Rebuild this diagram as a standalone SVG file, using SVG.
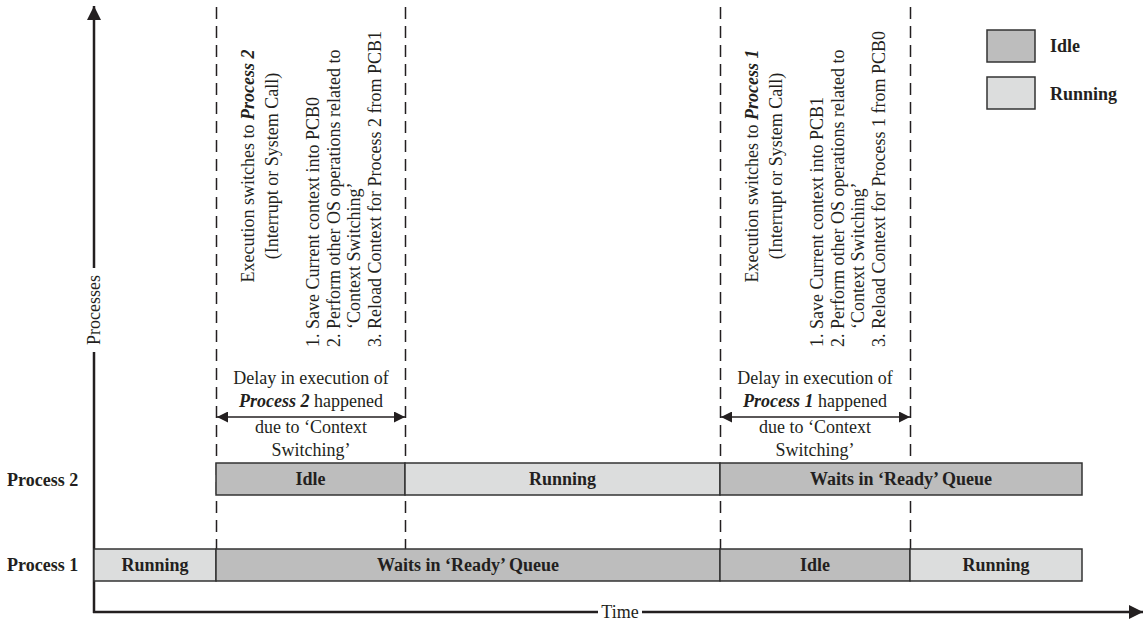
<svg xmlns="http://www.w3.org/2000/svg" width="1145" height="620" viewBox="0 0 1145 620">
<defs>
<style>
text{font-family:"Liberation Serif","Times New Roman",serif;fill:#231f20;font-size:18px}
.b{font-weight:bold}
.bi{font-weight:bold;font-style:italic}
.idle{fill:#bdbdbd;stroke:#333;stroke-width:1.5}
.run{fill:#dcdddd;stroke:#333;stroke-width:1.5}
.dash{stroke:#231f20;stroke-width:1.5;stroke-dasharray:12 7;fill:none}
.axis{stroke:#231f20;stroke-width:2.5;fill:none}
.dl{stroke:#231f20;stroke-width:1.5;fill:none}
</style>
<marker id="ah" viewBox="0 0 10 10" refX="10" refY="5" markerWidth="13" markerHeight="11" markerUnits="userSpaceOnUse" orient="auto-start-reverse">
<path d="M0,0 L10,5 L0,10 z" fill="#231f20"/>
</marker>
<marker id="axh" viewBox="0 0 10 10" refX="10" refY="5" markerWidth="16" markerHeight="14" markerUnits="userSpaceOnUse" orient="auto">
<path d="M0,0 L10,5 L0,10 z" fill="#231f20"/>
</marker>
</defs>
<rect width="1145" height="620" fill="#fff"/>

<g id="connectors">
<line class="dash" x1="216.5" y1="7" x2="216.5" y2="549"/>
<line class="dash" x1="405.5" y1="7" x2="405.5" y2="549"/>
<line class="dash" x1="720.5" y1="7" x2="720.5" y2="549"/>
<line class="dash" x1="910.5" y1="7" x2="910.5" y2="549"/>
<line class="dl" x1="217" y1="417" x2="405" y2="417" marker-start="url(#ah)" marker-end="url(#ah)"/>
<line class="dl" x1="721" y1="417" x2="910" y2="417" marker-start="url(#ah)" marker-end="url(#ah)"/>
<line class="axis" x1="94" y1="613" x2="94" y2="352"/>
<line class="axis" x1="94" y1="268" x2="94" y2="6" marker-end="url(#axh)"/>
<line class="axis" x1="93" y1="612" x2="598" y2="612"/>
<line class="axis" x1="642" y1="612" x2="1143" y2="612" marker-end="url(#axh)"/>
</g>

<g id="axis-labels">
<text transform="translate(100,310) rotate(-90)" text-anchor="middle">Processes</text>
<text x="620" y="618" text-anchor="middle">Time</text>
</g>

<g id="switch1-text">
<text transform="translate(254,166) rotate(-90)" text-anchor="middle">Execution switches to <tspan class="bi">Process 2</tspan></text>
<text transform="translate(278,166) rotate(-90)" text-anchor="middle">(Interrupt or System Call)</text>
<text transform="translate(319,347) rotate(-90)">1. Save Current context into PCB0</text>
<text transform="translate(340,347) rotate(-90)">2. Perform other OS operations related to</text>
<text transform="translate(360,329) rotate(-90)">‘Context Switching’</text>
<text transform="translate(381,347) rotate(-90)">3. Reload Context for Process 2 from PCB1</text>
</g>

<g id="switch2-text">
<text transform="translate(758,166) rotate(-90)" text-anchor="middle">Execution switches to <tspan class="bi">Process 1</tspan></text>
<text transform="translate(782,166) rotate(-90)" text-anchor="middle">(Interrupt or System Call)</text>
<text transform="translate(823,347) rotate(-90)">1. Save Current context into PCB1</text>
<text transform="translate(844,347) rotate(-90)">2. Perform other OS operations related to</text>
<text transform="translate(864,329) rotate(-90)">‘Context Switching’</text>
<text transform="translate(885,347) rotate(-90)">3. Reload Context for Process 1  from PCB0</text>
</g>

<g id="delay1" text-anchor="middle">
<text x="311" y="384">Delay in execution of</text>
<text x="311" y="407"><tspan class="bi">Process 2</tspan> happened</text>
<text x="311" y="433">due to ‘Context</text>
<text x="311" y="456">Switching’</text>
</g>

<g id="delay2" text-anchor="middle">
<text x="815" y="384">Delay in execution of</text>
<text x="815" y="407"><tspan class="bi">Process 1</tspan> happened</text>
<text x="815" y="433">due to ‘Context</text>
<text x="815" y="456">Switching’</text>
</g>

<g id="process2">
<text class="b" x="7" y="486">Process 2</text>
<g id="p2-idle"><rect class="idle" x="216" y="463" width="189" height="32"/><text class="b" x="310.5" y="485" text-anchor="middle">Idle</text></g>
<g id="p2-running"><rect class="run" x="405" y="463" width="315" height="32"/><text class="b" x="562.5" y="485" text-anchor="middle">Running</text></g>
<g id="p2-waits"><rect class="idle" x="720" y="463" width="362" height="32"/><text class="b" x="901" y="485" text-anchor="middle">Waits in ‘Ready’ Queue</text></g>
</g>

<g id="process1">
<text class="b" x="7" y="571">Process 1</text>
<g id="p1-running1"><rect class="run" x="94" y="549" width="122" height="32"/><text class="b" x="155" y="571" text-anchor="middle">Running</text></g>
<g id="p1-waits"><rect class="idle" x="216" y="549" width="504" height="32"/><text class="b" x="468" y="571" text-anchor="middle">Waits in ‘Ready’ Queue</text></g>
<g id="p1-idle"><rect class="idle" x="720" y="549" width="190" height="32"/><text class="b" x="815" y="571" text-anchor="middle">Idle</text></g>
<g id="p1-running2"><rect class="run" x="910" y="549" width="172" height="32"/><text class="b" x="996" y="571" text-anchor="middle">Running</text></g>
</g>

<g id="legend">
<g id="legend-idle"><rect class="idle" x="987" y="30" width="48" height="32"/><text class="b" x="1050" y="52">Idle</text></g>
<g id="legend-running"><rect class="run" x="987" y="77" width="48" height="32"/><text class="b" x="1050" y="100">Running</text></g>
</g>
</svg>
